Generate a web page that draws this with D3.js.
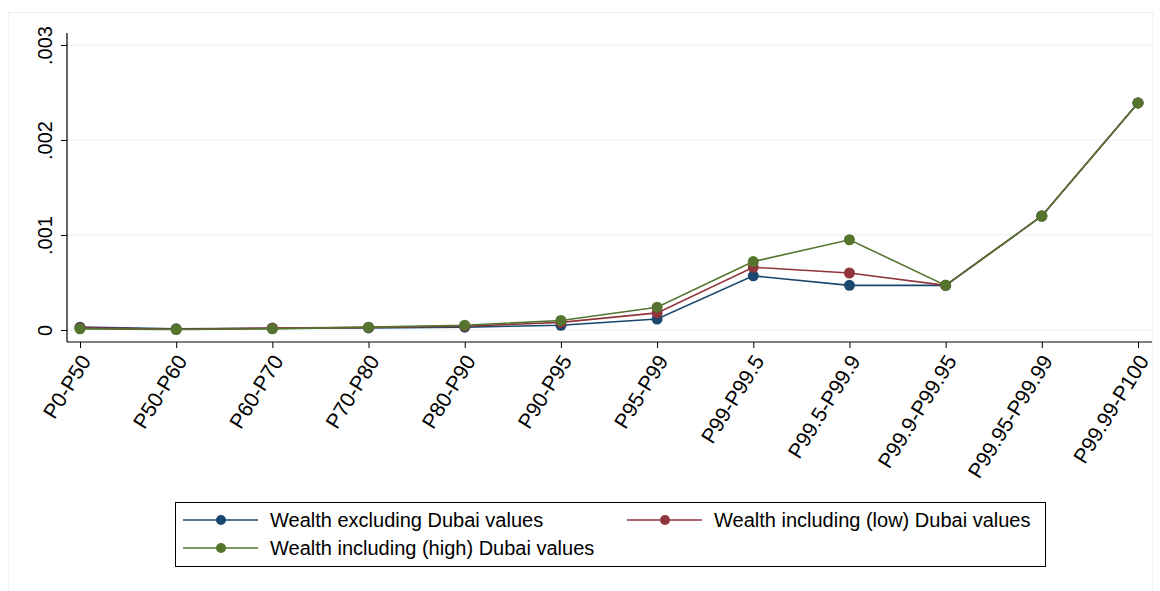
<!DOCTYPE html>
<html>
<head>
<meta charset="utf-8">
<script src="https://cdn.jsdelivr.net/npm/d3@7"></script>
<style>
  body { margin: 0; background: #fff; }
  svg { font-family: "Liberation Sans", Arial, sans-serif; }
</style>
</head>
<body>
<svg id="chart" width="1160" height="591"></svg>
<script>
const categories = ["P0-P50", "P50-P60", "P60-P70", "P70-P80", "P80-P90", "P90-P95",
    "P95-P99", "P99-P99.5", "P99.5-P99.9", "P99.9-P99.95", "P99.95-P99.99", "P99.99-P100"];

const excludingDubai = [0.00003, 0.000012, 0.000018, 0.000022, 0.00003, 0.00005,
    0.000115, 0.00057, 0.00047, 0.00047, 0.0012, 0.00239];
const lowDubai = [0.000022, 0.000008, 0.00002, 0.000028, 0.00004, 0.00008,
    0.00018, 0.00066, 0.0006, 0.00047, 0.0012, 0.00239];
const highDubai = [0.000012, 0.000005, 0.000012, 0.00003, 0.00005, 0.0001,
    0.00024, 0.00072, 0.00095, 0.00047, 0.0012, 0.00239];

const yTicks = [0, 0.001, 0.002, 0.003];
const yTickLabels = ["0", ".001", ".002", ".003"];

const series = [
    { name: "Wealth excluding Dubai values", values: excludingDubai, color: "#1a476f" },
    { name: "Wealth including (low) Dubai values", values: lowDubai, color: "#90353b" },
    { name: "Wealth including (high) Dubai values", values: highDubai, color: "#55752f" }
];

const svg = d3.select("#chart");

// outer frame
svg.append("rect")
    .attr("x", 8.5).attr("y", 12.5)
    .attr("width", 1144).attr("height", 590)
    .attr("fill", "none").attr("stroke", "#edf2f2").attr("stroke-width", 1);

const plotLeft = 67, plotRight = 1152, plotTop = 33, plotBottom = 342;

const x = d3.scalePoint().domain(categories).range([80, 1138]);
const y = d3.scaleLinear().domain([0, 0.003]).range([330, 45]);

// gridlines
svg.append("g").selectAll("line")
    .data(yTicks)
    .enter().append("line")
    .attr("x1", plotLeft).attr("x2", plotRight)
    .attr("y1", d => y(d)).attr("y2", d => y(d))
    .attr("stroke", "#eaf2f3").attr("stroke-width", 1.2);

// y axis
const yAxis = svg.append("g").attr("transform", `translate(${plotLeft},0)`)
    .call(d3.axisLeft(y).tickValues(yTicks).tickFormat((d, i) => yTickLabels[i]).tickSize(6).tickSizeOuter(0));
yAxis.select(".domain").remove();
yAxis.append("line").attr("x1", 0).attr("x2", 0).attr("y1", plotTop).attr("y2", plotBottom)
    .attr("stroke", "#000").attr("stroke-width", 1.2);
yAxis.selectAll(".tick line").attr("stroke", "#000");
yAxis.selectAll(".tick text")
    .attr("font-size", 20).attr("fill", "#000")
    .attr("text-anchor", "middle")
    .attr("x", 0).attr("dy", 0)
    .attr("transform", "translate(-15,0) rotate(-90)");

// x axis
const xAxis = svg.append("g").attr("transform", `translate(0,${plotBottom})`)
    .call(d3.axisBottom(x).tickSize(6).tickSizeOuter(0));
xAxis.select(".domain").remove();
xAxis.append("line").attr("x1", plotLeft).attr("x2", plotRight).attr("y1", 0).attr("y2", 0)
    .attr("stroke", "#000").attr("stroke-width", 1.2);
xAxis.selectAll(".tick line").attr("stroke", "#000");
xAxis.selectAll(".tick text")
    .attr("font-size", 21).attr("fill", "#000")
    .attr("text-anchor", "end")
    .attr("x", 0).attr("y", 0).attr("dy", "0.35em")
    .attr("transform", "translate(5,15) rotate(-58)");

// lines & markers
const line = d3.line().x((d, i) => x(categories[i])).y(d => y(d));
series.forEach(s => {
    svg.append("path")
        .datum(s.values)
        .attr("d", line)
        .attr("fill", "none")
        .attr("stroke", s.color)
        .attr("stroke-width", 1.6);
    svg.append("g").selectAll("circle")
        .data(s.values)
        .enter().append("circle")
        .attr("cx", (d, i) => x(categories[i]))
        .attr("cy", d => y(d))
        .attr("r", 5.5)
        .attr("fill", s.color);
});

// legend
const legend = svg.append("g");
legend.append("rect")
    .attr("x", 175.5).attr("y", 502.5).attr("width", 870).attr("height", 64)
    .attr("fill", "#fff").attr("stroke", "#000").attr("stroke-width", 1);
const legendPos = [[183, 520], [627, 520], [183, 548]];
series.forEach((s, i) => {
    const [lx, ly] = legendPos[i];
    const g = legend.append("g").attr("transform", `translate(${lx},${ly})`);
    g.append("line").attr("x1", 0).attr("x2", 75).attr("y1", 0).attr("y2", 0)
        .attr("stroke", s.color).attr("stroke-width", 1.6);
    g.append("circle").attr("cx", 38).attr("cy", 0).attr("r", 5).attr("fill", s.color);
    g.append("text").attr("x", 87).attr("y", 0).attr("dy", "0.35em")
        .attr("font-size", 20).attr("fill", "#000").text(s.name);
});
</script>
</body>
</html>
